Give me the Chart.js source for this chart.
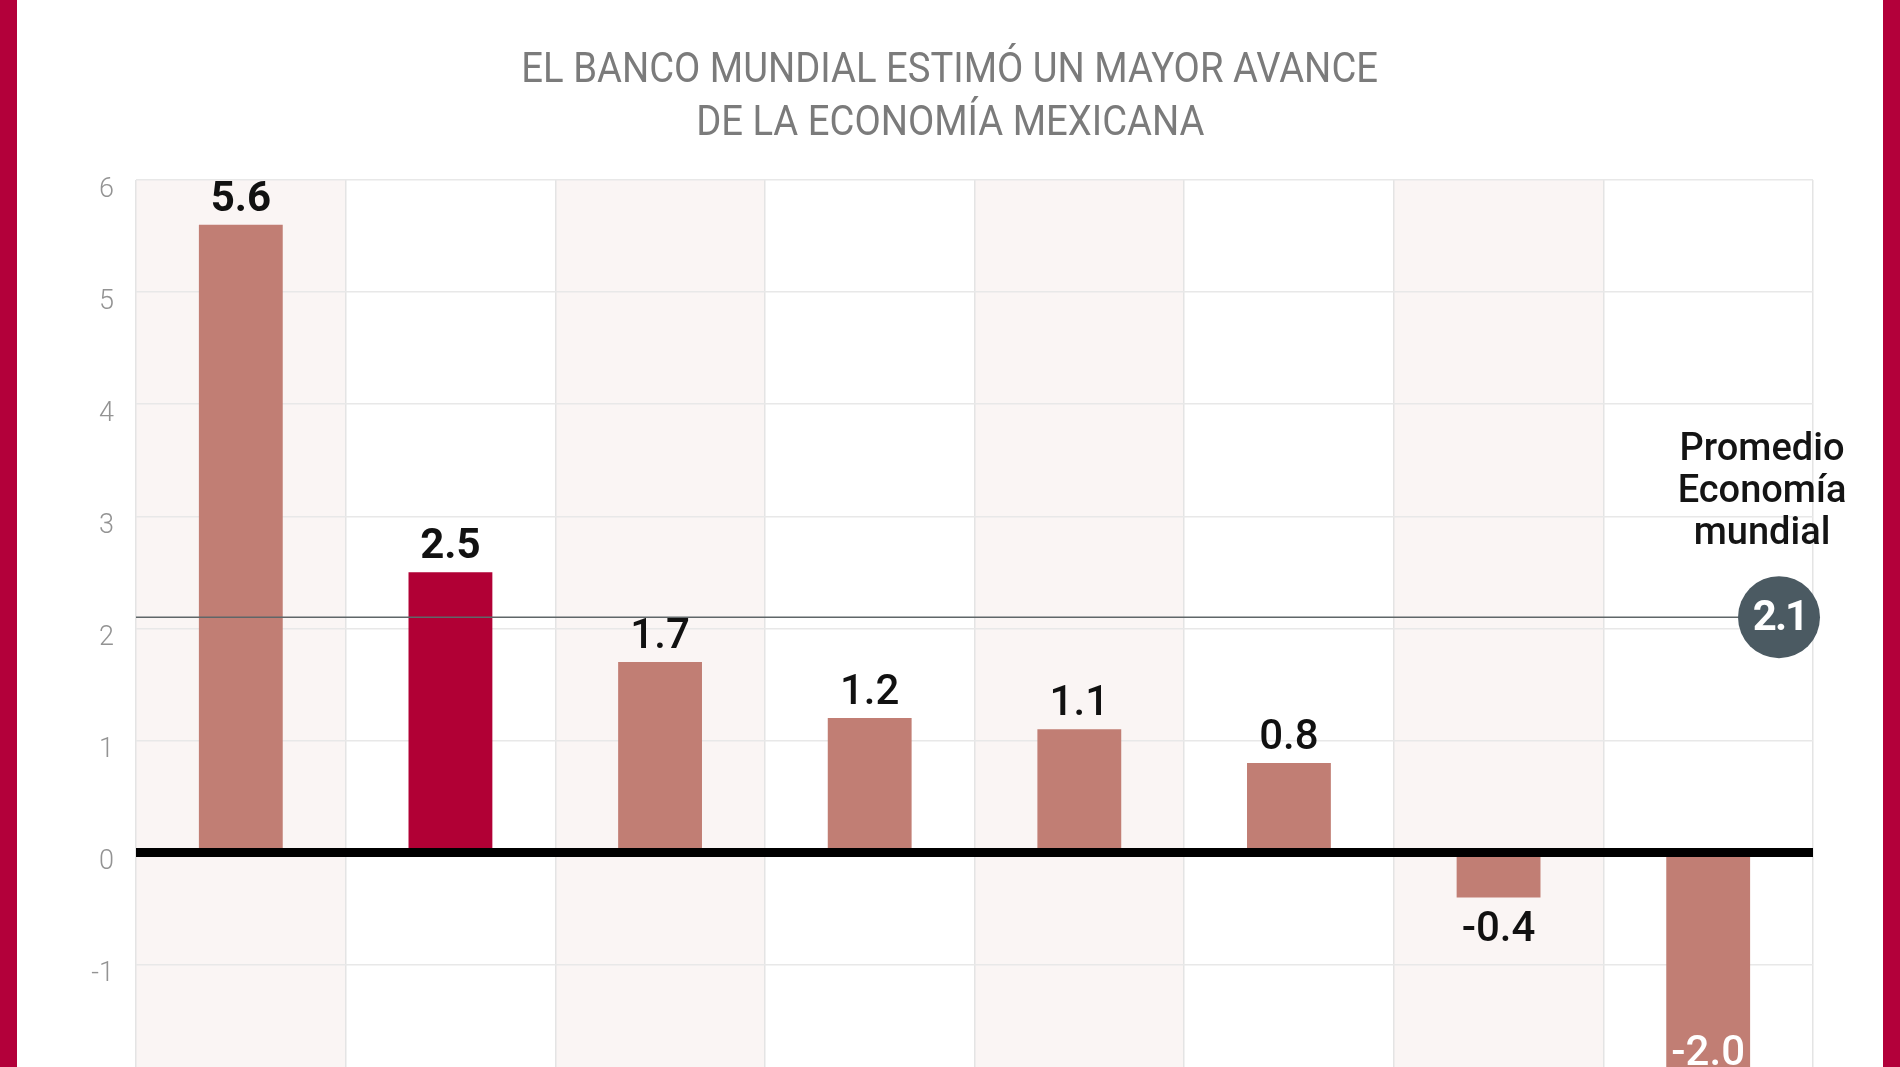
<!DOCTYPE html>
<html lang="es">
<head>
<meta charset="utf-8">
<title>Crecimiento 2023</title>
<script src="https://cdn.jsdelivr.net/npm/chart.js@4.4.0/dist/chart.umd.min.js"></script>
<style>
  html, body { margin: 0; padding: 0; background: #fff; overflow: hidden; }
  body { width: 1900px; height: 1067px; position: relative; font-family: Roboto, "Noto Sans", sans-serif; }
  .frame-l, .frame-r { position: absolute; top: 0; width: 17px; height: 1067px; background: #b3003a; z-index: 5; }
  .frame-l { left: 0; }
  .frame-r { left: 1883px; }
  #title {
    position: absolute; left: 0; top: 41px; width: 1900px; text-align: center;
    font-size: 42px; line-height: 53px; color: #7b7b7b; font-weight: 400; z-index: 4;
  }
  #title span { display: inline-block; transform: scaleX(0.91); white-space: nowrap; }
  #wrap { position: absolute; left: 0; top: 0; width: 1900px; height: 1115px; }
</style>
</head>
<body>
<div class="frame-l"></div>
<div class="frame-r"></div>
<div id="title"><span>EL BANCO MUNDIAL ESTIMÓ UN MAYOR AVANCE</span><br><span>DE LA ECONOMÍA MEXICANA</span></div>
<div id="wrap"><canvas id="growthChart" width="1900" height="1115"></canvas></div>

<script>
// datos (pronóstico de crecimiento, %)
const countries = ['China', 'México', 'Colombia', 'Brasil', 'EU', 'Japón', 'Chile', 'Argentina'];
const growth = [5.6, 2.5, 1.7, 1.2, 1.1, 0.8, -0.4, -2.0];
const worldAvg = 2.1;
const avgLabel = ['Promedio', 'Economía', 'mundial'];
const yTicks = [-2, -1, 0, 1, 2, 3, 4, 5, 6];

const highlight = 'México';

document.addEventListener('DOMContentLoaded', function () {

  const barColors = countries.map(c => c === highlight ? '#b10035' : '#c17e74');
  const FONT = 'Roboto, "Noto Sans", sans-serif';

  // fondo: columnas alternas sombreadas
  const columnsPlugin = {
    id: 'columns',
    beforeDraw(chart) {
      const { ctx, chartArea, scales } = chart;
      const x = scales.x;
      const w = x.getPixelForValue(1) - x.getPixelForValue(0);
      ctx.save();
      ctx.fillStyle = '#fff';
      ctx.fillRect(0, 0, chart.width, chart.height);
      ctx.fillStyle = '#faf5f4';
      countries.forEach((c, i) => {
        if (i % 2 === 0) {
          const cx = x.getPixelForValue(i);
          ctx.fillRect(cx - w / 2, chartArea.top, w, chartArea.bottom - chartArea.top);
        }
      });
      ctx.restore();
    }
  };

  // linea cero, promedio mundial y etiquetas
  const overlayPlugin = {
    id: 'overlay',
    afterDatasetsDraw(chart) {
      const { ctx, chartArea, scales } = chart;
      const y = scales.y;
      const y0 = y.getPixelForValue(0);
      const yAvg = y.getPixelForValue(worldAvg);
      const cx = chartArea.right - 34;
      const r = 41;

      ctx.save();

      // promedio
      ctx.strokeStyle = '#5f6668';
      ctx.lineWidth = 1.5;
      ctx.beginPath();
      ctx.moveTo(chartArea.left, yAvg);
      ctx.lineTo(cx - r, yAvg);
      ctx.stroke();

      // cero
      ctx.strokeStyle = '#000';
      ctx.lineWidth = 9;
      ctx.beginPath();
      ctx.moveTo(chartArea.left, y0);
      ctx.lineTo(chartArea.right, y0);
      ctx.stroke();

      ctx.fillStyle = '#4b5a62';
      ctx.beginPath();
      ctx.arc(cx, yAvg, r, 0, Math.PI * 2);
      ctx.fill();

      ctx.fillStyle = '#fff';
      ctx.font = '700 42px ' + FONT;
      ctx.textAlign = 'center';
      ctx.textBaseline = 'middle';
      ctx.letterSpacing = '-2px';
      ctx.fillText(worldAvg.toFixed(1), cx + 1, yAvg + 2);
      ctx.letterSpacing = '0px';

      ctx.fillStyle = '#141414';
      ctx.font = '500 38px ' + FONT;
      ctx.textBaseline = 'alphabetic';
      avgLabel.forEach((t, i) => {
        ctx.fillText(t, chartArea.right - 51, yAvg - 157 + i * 42);
      });

      // valores
      const meta = chart.getDatasetMeta(0);
      meta.data.forEach((bar, i) => {
        const v = growth[i];
        const txt = v.toFixed(1);
        ctx.font = (i < 2 ? '700' : '500') + ' 42px ' + FONT;
        if (v >= 0) {
          ctx.fillStyle = '#111';
          ctx.fillText(txt, bar.x, bar.y - 14);
        } else if (v > -1) {
          ctx.fillStyle = '#111';
          ctx.fillText(txt, bar.x, bar.y + 44);
        } else {
          ctx.fillStyle = '#fff';
          ctx.fillText(txt, bar.x, bar.y - 12);
        }
      });

      ctx.restore();
    }
  };

  const chart = new Chart(document.getElementById('growthChart'), {
    type: 'bar',
    data: {
      labels: countries,
      datasets: [{
        label: 'Crecimiento',
        data: growth,
        backgroundColor: barColors,
        borderWidth: 0,
        barPercentage: 0.4,
        categoryPercentage: 1.0
      }]
    },
    options: {
      responsive: false,
      devicePixelRatio: 1,
      animation: false,
      layout: { padding: { left: 0, right: 87, top: 180, bottom: 8 } },
      plugins: {
        legend: { display: false },
        tooltip: { enabled: false }
      },
      scales: {
        x: {
          offset: true,
          grid: { color: '#e4e4e4', lineWidth: 1.5, offset: true, drawTicks: false },
          border: { display: false },
          ticks: { display: false },
          afterFit(scale) { scale.height = 0; }
        },
        y: {
          min: yTicks[0],
          max: yTicks[yTicks.length - 1],
          afterBuildTicks(scale) { scale.ticks = yTicks.map(v => ({ value: v })); },
          grid: {
            color: ctx => ctx.tick && ctx.tick.value === 0 ? 'rgba(0,0,0,0)' : '#e8e8e8',
            lineWidth: 1.5,
            drawTicks: false
          },
          border: { display: false },
          ticks: {
            color: '#939393',
            font: { family: FONT, size: 27, weight: '300' },
            padding: 22,
            labelOffset: 10
          },
          afterFit(scale) { scale.width = 136; }
        }
      }
    },
    plugins: [columnsPlugin, overlayPlugin]
  });

});
</script>
</body>
</html>
